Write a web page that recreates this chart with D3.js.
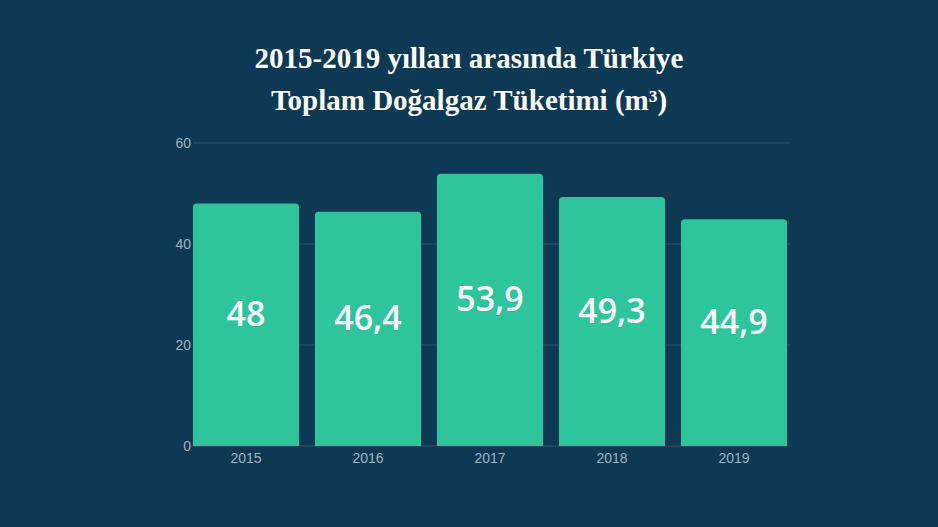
<!DOCTYPE html>
<html><head><meta charset="utf-8">
<script src="https://cdn.jsdelivr.net/npm/d3@7"></script>
<style>body{margin:0;background:#0e3954;}svg{display:block}</style>
</head><body>
<svg id="c" width="938" height="527"></svg>
<script>
const years = ["2015","2016","2017","2018","2019"];
const values = [48, 46.4, 53.9, 49.3, 44.9];
const labels = ["48","46,4","53,9","49,3","44,9"];
const yTicks = [0,20,40,60];

const svg = d3.select("#c");
svg.append("rect").attr("width",938).attr("height",527).attr("fill","#0e3954");
svg.append("text").attr("x",469).attr("y",68).attr("text-anchor","middle")
  .attr("font-family","Liberation Serif, serif").attr("font-weight","bold").attr("font-size",29).attr("fill","#fff")
  .text("2015-2019 yılları arasında Türkiye");
svg.append("text").attr("x",469).attr("y",110).attr("text-anchor","middle")
  .attr("font-family","Liberation Serif, serif").attr("font-weight","bold").attr("font-size",29).attr("fill","#fff")
  .text("Toplam Doğalgaz Tüketimi (m³)");

const x = d3.scaleBand().domain(years).range([185,795]).paddingInner(0.13).paddingOuter(0.065);
const y = d3.scaleLinear().domain([0,60]).range([446,143]);

const g = svg.append("g");
g.selectAll("line.grid").data(yTicks).join("line")
  .attr("x1",193).attr("x2",790).attr("y1",d=>y(d)).attr("y2",d=>y(d))
  .attr("stroke","#2a5470").attr("stroke-width",1);
g.selectAll("text.yt").data(yTicks).join("text")
  .attr("x",191).attr("y",d=>y(d)+5).attr("text-anchor","end")
  .attr("font-family","Liberation Sans, Arial").attr("font-size",14).attr("fill","#9fb3c2").text(d=>d);

g.selectAll("path.bar").data(values).join("path")
  .attr("fill","#2ec59d")
  .attr("d",(d,i)=>{
    const x0=x(years[i]), w=x.bandwidth(), y0=y(d), y1=y(0), r=4;
    return `M${x0},${y1}V${y0+r}Q${x0},${y0} ${x0+r},${y0}H${x0+w-r}Q${x0+w},${y0} ${x0+w},${y0+r}V${y1}Z`;
  });
g.selectAll("text.lab").data(values).join("text")
  .attr("x",(d,i)=>x(years[i])+x.bandwidth()/2).attr("y",d=>(y(d)+y(0))/2+1)
  .attr("text-anchor","middle").attr("font-family","Open Sans, sans-serif").attr("font-size",34).attr("font-weight",600)
  .attr("fill","#fff").text((d,i)=>labels[i]);
g.selectAll("text.xt").data(years).join("text")
  .attr("x",d=>x(d)+x.bandwidth()/2).attr("y",463).attr("text-anchor","middle")
  .attr("font-family","Liberation Sans, Arial").attr("font-size",14).attr("fill","#9fb3c2").text(d=>d);
</script>
</body></html>
